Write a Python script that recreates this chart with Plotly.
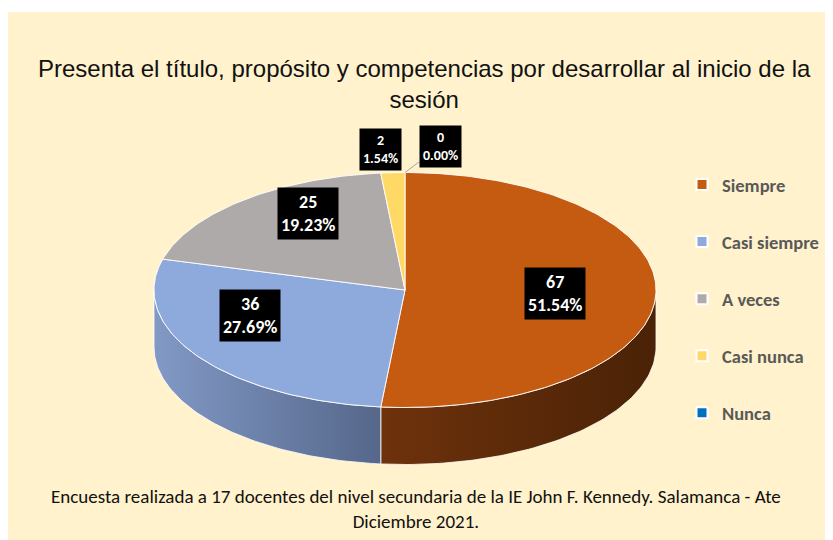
import numpy as np
import plotly.graph_objects as go

# Datos de la encuesta
categorias = ["Siempre", "Casi siempre", "A veces", "Casi nunca", "Nunca"]
valores = [67, 36, 25, 2, 0]

colores = ["#C55A11", "#8EA9DB", "#AEAAAA", "#FFD966", "#0070C0"]
# degradado del costado (izq -> der)
colores_lado = [["#6E320C", "#4A2206"], ["#8299C6", "#55678A"],
                ["#8A8787", "#6A6868"], ["#C9AA4E", "#A88C3E"],
                ["#00599A", "#004070"]]

# geometria del pastel 3D (pixeles de la imagen)
CX, CY, RX, RY, PROF = 405, 290, 251, 117.5, 57

# posicion de etiquetas: factor radial y desplazamiento
lab_f = [0.6, 0.75, 0.6, 1.2, 1.02]
lab_dx = [0, 0, 0, -10, 35]
lab_dy = [0, -25, -23, 0, -24]
lab_size = [18, 18, 18, 14, 14]

total = sum(valores)
FUENTE = "Carlito, Lato, sans-serif"

# la pagina deja 8px de margen: la figura empieza en (8, 8)
OFF = 8
W, H = 833 - OFF, 540 - OFF


def elipse(angs, dy=0):
    r = np.radians(angs)
    return CX + RX * np.cos(r), CY - RY * np.sin(r) + dy


fig = go.Figure()

inicio = 90.0
rangos = []
for v in valores:
    fin = inicio - 360.0 * v / total
    rangos.append((inicio, fin))
    inicio = fin

# costados visibles (mitad frontal: -180..0)
for i, (a0, a1) in enumerate(rangos):
    s = min(a0, 0)
    e = max(a1, -180)
    if s <= e:
        continue
    angs = np.linspace(s, e, 80)
    xt, yt = elipse(angs)
    xb, yb = elipse(angs[::-1], PROF)
    fig.add_trace(go.Scatter(
        x=np.concatenate([xt, xb, xt[:1]]), y=np.concatenate([yt, yb, yt[:1]]),
        mode="lines", fill="toself", line=dict(color="rgba(255,255,255,0.8)", width=1),
        fillgradient=dict(type="horizontal",
                          colorscale=[[0, colores_lado[i][0]], [1, colores_lado[i][1]]]),
        hoverinfo="skip", showlegend=False))

# cara superior
for i, (a0, a1) in enumerate(rangos):
    if valores[i] == 0:
        continue
    angs = np.linspace(a0, a1, max(3, int(abs(a0 - a1))))
    xa, ya = elipse(angs)
    fig.add_trace(go.Scatter(
        x=np.concatenate([[CX], xa, [CX]]), y=np.concatenate([[CY], ya, [CY]]),
        mode="lines", fill="toself", fillcolor=colores[i],
        line=dict(color="rgba(255,255,255,0.9)", width=1),
        name=categorias[i], hoverinfo="name", showlegend=False))

# etiquetas
for i, (a0, a1) in enumerate(rangos):
    mid = (a0 + a1) / 2
    lx, ly = elipse([mid])
    px = CX + (lx[0] - CX) * lab_f[i] + lab_dx[i]
    py = CY + (ly[0] - CY) * lab_f[i] + lab_dy[i]
    pct = 100.0 * valores[i] / total
    txt = f"<b>{valores[i]}<br>{pct:.2f}%</b>"
    fnt = dict(color="white", size=lab_size[i], family=FUENTE)
    if valores[i] == 0:
        ex, ey = elipse([mid])
        fig.add_annotation(x=ex[0], y=ey[0], ax=px, ay=py, axref="x", ayref="y",
                           text=txt, showarrow=True, arrowhead=0, arrowwidth=1,
                           arrowcolor="#A6A6A6", bgcolor="black", borderpad=3, font=fnt)
    else:
        fig.add_annotation(x=px, y=py, text=txt, showarrow=False,
                           bgcolor="black", borderpad=3, font=fnt)

# leyenda
for i, c in enumerate(categorias):
    fig.add_trace(go.Scatter(
        x=[None], y=[None], mode="markers", name=c, legendgroup=c,
        marker=dict(symbol="square", size=11, color=colores[i],
                    line=dict(color="white", width=2))))

fig.add_annotation(
    text="Presenta el título, propósito y competencias por desarrollar al inicio de la<br>sesión",
    x=(424 - OFF) / W, y=1 - (84 - OFF) / H, xref="paper", yref="paper",
    xanchor="center", yanchor="middle", showarrow=False,
    font=dict(family="Liberation Sans, Arial", size=24, color="#111111"))
fig.add_annotation(
    text="Encuesta realizada a 17 docentes del nivel secundaria de la IE John F. Kennedy. Salamanca - Ate<br>Diciembre 2021.",
    x=(416 - OFF) / W, y=1 - (509 - OFF) / H, xref="paper", yref="paper",
    xanchor="center", yanchor="middle", showarrow=False,
    font=dict(family=FUENTE, size=19, color="#111111"))

fig.add_shape(type="rect", xref="paper", yref="paper", x0=0, x1=1,
              y0=0, y1=1 - (12 - OFF) / H, fillcolor="#FFF2CC", line_width=0, layer="below")

fig.update_layout(
    width=W, height=H, margin=dict(l=0, r=0, t=0, b=0),
    paper_bgcolor="white", plot_bgcolor="rgba(0,0,0,0)",
    xaxis=dict(range=[OFF, 833], visible=False, fixedrange=True),
    yaxis=dict(range=[540, OFF], visible=False, fixedrange=True),
    legend=dict(x=(682 - OFF) / W, y=1 - (166 - OFF) / H, xanchor="left", yanchor="top",
                tracegroupgap=30, bgcolor="rgba(0,0,0,0)",
                font=dict(family=FUENTE, size=18.5, color="#595959", weight="bold")),
    showlegend=True,
)

fig.write_html("out.html")
